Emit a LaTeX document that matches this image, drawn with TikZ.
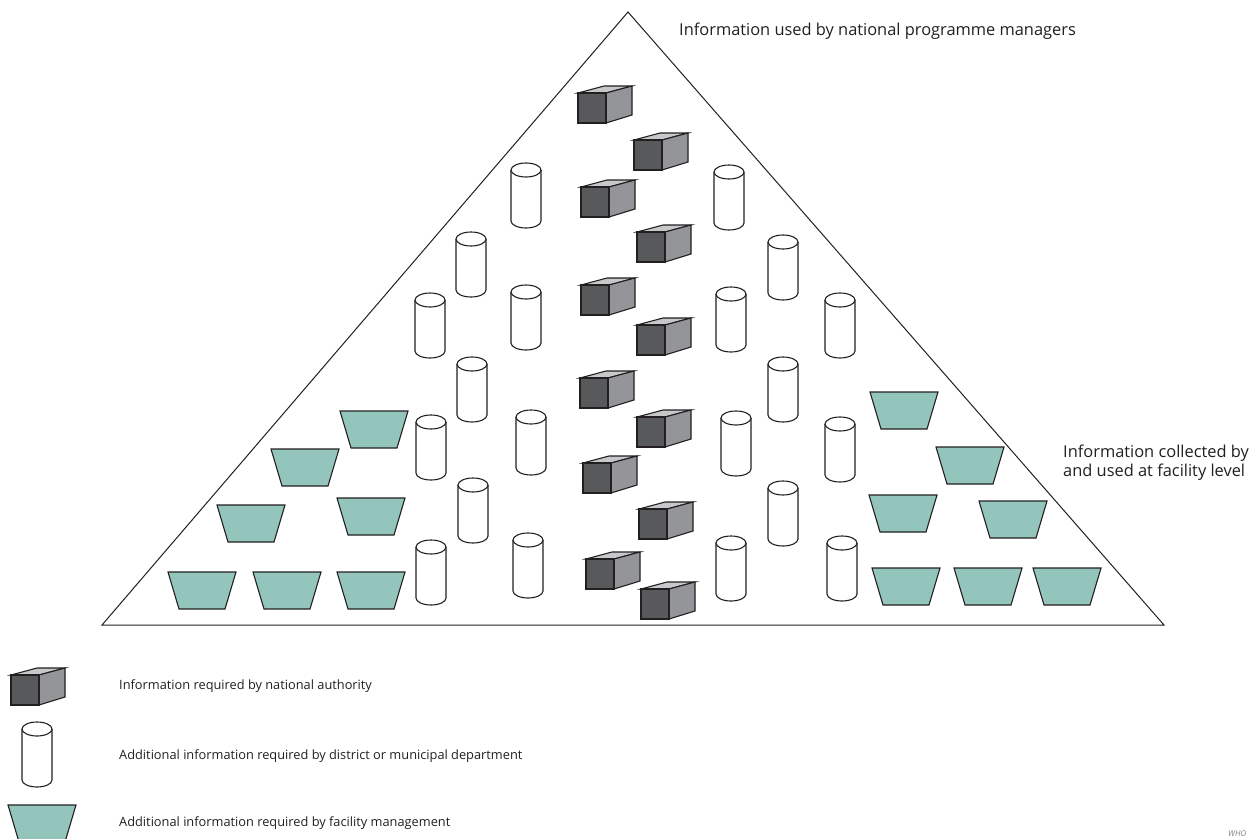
\documentclass[tikz,border=0pt]{standalone}
\usepackage{fontspec}
\setmainfont{Open Sans}
\definecolor{cubefront}{HTML}{58595B}
\definecolor{cubeside}{HTML}{939598}
\definecolor{cubetop}{HTML}{C7C8CA}
\definecolor{teal}{HTML}{94C5BD}
\definecolor{ink}{HTML}{231F20}
\definecolor{txt}{HTML}{231F20}
\tikzset{
  x=1pt, y=1pt,
  shapeline/.style={draw=ink, line width=1.1pt, line join=miter},
  cube/.pic={
    \filldraw[shapeline, fill=cubetop] (0,0) -- (26,7) -- (54,7) -- (28,0) -- cycle;
    \filldraw[shapeline, fill=cubeside] (28,0) -- (54,7) -- (54,-22) -- (28,-30) -- cycle;
    \filldraw[shapeline, fill=cubefront] (0,0) rectangle (28,-30);
  },
  cyl/.pic={
    \filldraw[shapeline, fill=white] (0,-7) -- (0,-58)
      arc[start angle=180, end angle=360, x radius=15, y radius=7] -- (30,-7);
    \filldraw[shapeline, fill=white] (15,-7) ellipse[x radius=15, y radius=7];
  },
  trap/.pic={
    \filldraw[shapeline, fill=teal] (0,0) -- (68,0) -- (57,-37) -- (11,-37) -- cycle;
  },
  bigtext/.style={font=\fontsize{16.4}{20}\selectfont, text=txt, inner sep=0pt, anchor=base west},
  legtext/.style={font=\fontsize{12.8}{15}\selectfont, text=txt, inner sep=0pt, anchor=base west},
}
\begin{document}
\begin{tikzpicture}
\useasboundingbox (0,0) rectangle (1250,-838);
% pyramid
\coordinate (apex) at (628,-12);
\coordinate (bl) at (102,-625);
\coordinate (br) at (1164,-625);
\draw[ink, line width=1pt, line join=miter] (apex) -- (bl) -- (br) -- cycle;
% cubes (national authority)
\foreach \px/\py in {578/93, 634/140, 581/187, 637/232, 581/285, 637/325, 580/378, 637/417, 583/463, 639/509, 586/559, 641/589}
  \pic at (\px,-\py) {cube};
% cylinders (district)
\foreach \px/\py in {511/163, 456/232, 415/293, 511/285, 457/357, 416/415, 516/410, 458/478, 416/540, 513/533,
                     714/165, 768/235, 716/287, 825/293, 768/357, 721/411, 825/417, 768/481, 716/536, 827/536}
  \pic at (\px,-\py) {cyl};
% trapezoids (facility)
\foreach \px/\py in {340/411, 271/449, 217/505, 337/498, 168/572, 253/572, 337/572,
                     870/392, 936/447, 869/495, 979/501, 872/568, 954/568, 1033/568}
  \pic at (\px,-\py) {trap};
% labels
\node[bigtext] (top) at (679,-35) {Information used by national programme managers};
\node[bigtext] (fac1) at (1063,-457) {Information collected by};
\node[bigtext] (fac2) at (1063,-476) {and used at facility level};
% legend
\pic at (11,-675) {cube};
\pic at (22,-722) {cyl};
\pic at (8,-805) {trap};
\node[legtext] (l1) at (119,-689) {Information required by national authority};
\node[legtext] (l2) at (119,-759) {Additional information required by district or municipal department};
\node[legtext] (l3) at (119,-826) {Additional information required by facility management};
\node[font=\fontsize{8}{9}\selectfont\itshape, text=gray, inner sep=0pt, anchor=base west] (who) at (1228,-836) {WHO};
\end{tikzpicture}
\end{document}
